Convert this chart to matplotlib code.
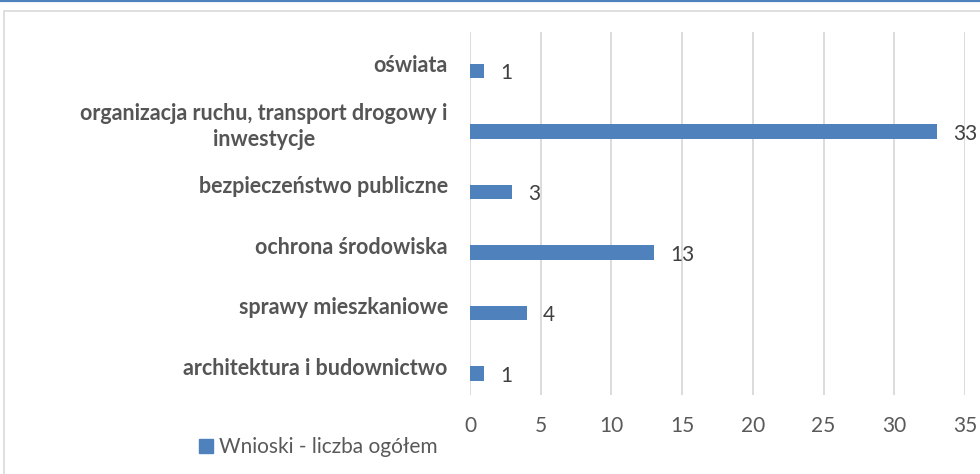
import matplotlib
matplotlib.use("Agg")
import matplotlib.pyplot as plt
import matplotlib.transforms as mtransforms
from matplotlib.patches import Rectangle
from matplotlib.lines import Line2D

categories = [
    "architektura i budownictwo",
    "sprawy mieszkaniowe",
    "ochrona środowiska",
    "bezpieczeństwo publiczne",
    "organizacja ruchu, transport drogowy i\ninwestycje",
    "oświata",
]
values = [1, 4, 13, 3, 33, 1]
series_name = "Wnioski - liczba ogółem"
x_ticks = [0, 5, 10, 15, 20, 25, 30, 35]

plt.rcParams['font.family'] = ['Lato', 'DejaVu Sans']

W, H = 980, 474
fig = plt.figure(figsize=(W / 100, H / 100), dpi=100)
fig.patch.set_facecolor("white")

# outer decorations
fig.add_artist(Line2D([0, 1], [1 - 1 / H, 1 - 1 / H], transform=fig.transFigure,
                      color="#4f81bd", lw=1.6))
fig.add_artist(Rectangle((4 / W, -0.05), 1.1, 1 - 11 / H + 0.05, transform=fig.transFigure,
                         fill=False, edgecolor="#d9d9d9", lw=1.2))

ax = fig.add_axes([470 / W, 1 - 395 / H, (965 - 470) / W, (395 - 32) / H])
bar_color = "#4f81bd"
offset = 0.145
ypos = list(range(len(categories)))
ax.barh([y - offset for y in ypos], values, height=0.24, color=bar_color, zorder=3)

for y, v in zip(ypos, values):
    ax.annotate(str(v), xy=(v, y - offset), xytext=(11.5, 0), textcoords="offset points",
                va="center_baseline", ha="left", fontsize=15, color="#404040")

ax.set_xlim(0, 35)
ax.set_ylim(-0.5, len(categories) - 0.5)
ax.set_xticks(x_ticks)
ax.set_xticklabels([str(t) for t in x_ticks], fontsize=15, color="#595959")
ax.set_yticks(ypos)
ax.set_yticklabels([])

# category labels (right aligned block, lines centred within block)
trans = mtransforms.offset_copy(ax.get_yaxis_transform(), fig=fig, x=-16, y=-2.5, units="points")
for y, cat in zip(ypos, categories):
    ax.text(0, y, cat, transform=trans, ha="right", va="center", multialignment="center",
            fontsize=15.5, fontweight="bold", color="#555555", linespacing=1.3)

ax.tick_params(axis="both", length=0)
ax.tick_params(axis="x", pad=15)
ax.grid(axis="x", color="#d9d9d9", lw=1.3, zorder=0)
for s in ax.spines.values():
    s.set_visible(False)

handle = Rectangle((0, 0), 1, 1, color=bar_color)
fig.legend([handle], [series_name], loc="center left", bbox_to_anchor=(189 / W, 1 - 447 / H),
           frameon=False, fontsize=15, handlelength=0.65, handleheight=0.65,
           handletextpad=0.3, labelcolor="#595959", borderpad=0)

fig.savefig("out.png", dpi=100, facecolor="white")
